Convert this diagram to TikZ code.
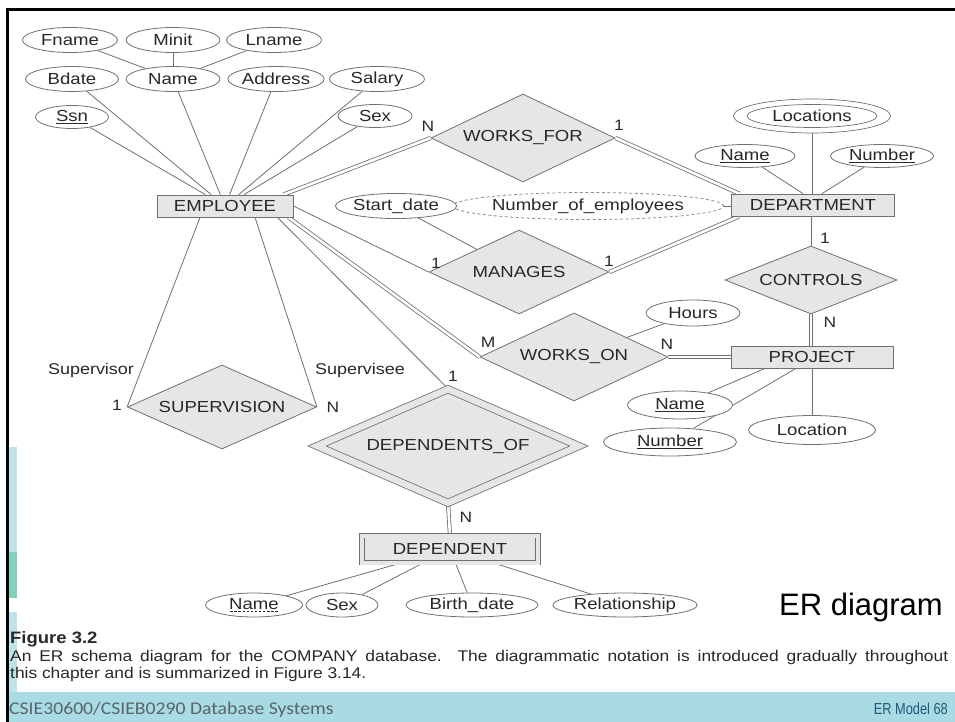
\documentclass[tikz,border=0pt]{standalone}
\usepackage{fontspec}
\setmainfont{Liberation Sans}[FakeStretch=1.16]
\newfontfamily\capfont{Liberation Sans}[FakeStretch=1.12]
\newfontfamily\slidefont{Liberation Sans}
\newfontfamily\narrowfont{Liberation Sans}[FakeStretch=0.8]
\newfontfamily\footfont{Carlito}[FakeStretch=1.1]
\usetikzlibrary{shapes.geometric,calc}

% dashed underline for a partial key
\newcommand{\dashunder}[1]{\setbox0\hbox{#1}\rlap{\raisebox{-3pt}{\hbox to \wd0{\xleaders\hbox to 4pt{\hss\rule{2.4pt}{0.7pt}\hss}\hfill}}}\box0}

\definecolor{edgec}{RGB}{112,112,112}
\definecolor{boxfill}{RGB}{230,230,230}
\definecolor{inkc}{RGB}{40,40,40}
\definecolor{bandc}{RGB}{168,219,227}
\definecolor{tealc}{RGB}{128,210,188}
\definecolor{pagenum}{RGB}{35,90,120}
\definecolor{footgray}{RGB}{90,100,106}

\pgfdeclarelayer{bg}
\pgfsetlayers{bg,main}

\tikzset{
  lbl/.style={font=\fontsize{16}{18}\selectfont, text=inkc},
  attr/.style={ellipse, draw=edgec, line width=0.8pt, fill=white, inner sep=0pt, lbl},
  entity/.style={rectangle, draw=edgec, line width=0.8pt, fill=boxfill, inner sep=0pt, lbl},
  rel/.style={diamond, draw=edgec, line width=0.8pt, fill=boxfill, inner sep=0pt, aspect=2.2, lbl},
  link/.style={draw=edgec, line width=0.8pt},
  total/.style={draw=edgec, line width=0.8pt, double=white, double distance=2.6pt},
  card/.style={font=\fontsize{15}{17}\selectfont, text=inkc, inner sep=0pt},
  role/.style={font=\fontsize{15.5}{17}\selectfont, text=inkc, inner sep=0pt},
  captext/.style={anchor=base west, inner sep=0pt, font=\capfont\fontsize{15.5}{17}\selectfont, text=inkc},
}

\begin{document}
\begin{tikzpicture}[x=1pt,y=-1pt]
\useasboundingbox (0,0) rectangle (955,722);

% ---------------- EMPLOYEE ----------------
\node[entity, minimum width=136pt, minimum height=22pt] (employee) at (225,206) {EMPLOYEE};
\node[attr, minimum width=95pt, minimum height=25pt] (fname) at (70,40) {Fname};
\node[attr, minimum width=94pt, minimum height=25pt] (minit) at (173,40) {Minit};
\node[attr, minimum width=95pt, minimum height=25pt] (lname) at (274,40) {Lname};
\node[attr, minimum width=93pt, minimum height=25pt] (bdate) at (72,79) {Bdate};
\node[attr, minimum width=94pt, minimum height=25pt] (ename) at (173,79) {Name};
\node[attr, minimum width=92pt, minimum height=25pt] (address) at (276,79) {Address};
\node[attr, minimum width=95pt, minimum height=25pt] (salary) at (377,79) {Salary};
\node[attr, minimum width=73pt, minimum height=23pt] (ssn) at (72,117) {\underline{Ssn}};
\node[attr, minimum width=74pt, minimum height=23pt] (esex) at (375,116) {Sex};

% ---------------- DEPARTMENT ----------------
\node[entity, minimum width=163pt, minimum height=22pt] (department) at (813,205) {DEPARTMENT};
\node[attr, line width=0.7pt, minimum width=157pt, minimum height=34pt] (locations) at (812,116) {Locations};
\draw[edgec, line width=0.7pt] (locations.center) ellipse [x radius=65pt, y radius=11.5pt];
\node[attr, minimum width=100pt, minimum height=23pt] (dname) at (745,156) {\underline{Name}};
\node[attr, minimum width=103pt, minimum height=23pt] (dnumber) at (882,156) {\underline{Number}};
\node[attr, draw=edgec!80, dash pattern=on 3pt off 2.5pt, minimum width=224pt, minimum height=27pt] (numemp) at (588,206) {Number\_of\_employees};

% ---------------- relationships ----------------
\node[rel, minimum width=184pt, minimum height=88pt] (worksfor) at (523,138) {WORKS\_FOR};
\node[rel, minimum width=180pt, minimum height=84pt] (manages) at (519,272) {MANAGES};
\node[attr, minimum width=105pt, minimum height=25pt] (startdate) at (396,206) {Start\_date};
\node[rel, minimum width=172pt, minimum height=68pt] (controls) at (811,280) {CONTROLS};
\node[rel, minimum width=188pt, minimum height=88pt] (workson) at (574,357) {WORKS\_ON};
\node[attr, minimum width=94pt, minimum height=26pt] (hours) at (693,313) {Hours};
\node[rel, minimum width=189pt, minimum height=84pt] (supervision) at (222,407) {SUPERVISION};
\node[rel, double=boxfill, double distance=6.4pt, minimum width=262pt, minimum height=114pt] (depof) at (448,446) {DEPENDENTS\_OF};

% ---------------- PROJECT ----------------
\node[entity, minimum width=162pt, minimum height=22pt] (project) at (812,357) {PROJECT};
\node[attr, minimum width=105pt, minimum height=28pt] (pname) at (680,405) {\underline{Name}};
\node[attr, minimum width=133pt, minimum height=28pt] (pnumber) at (670,442) {\underline{Number}};
\node[attr, minimum width=127pt, minimum height=29pt] (plocation) at (812,430) {Location};

% ---------------- DEPENDENT ----------------
\node[entity, double=boxfill, double distance=4pt, minimum width=176pt, minimum height=27pt] (dependent) at (450,549) {DEPENDENT};
\node[attr, minimum width=97pt, minimum height=24pt] (depname) at (254,605) {\dashunder{Name}};
\node[attr, minimum width=72pt, minimum height=24pt] (depsex) at (342,605) {Sex};
\node[attr, minimum width=132pt, minimum height=24pt] (birthdate) at (472,605) {Birth\_date};
\node[attr, minimum width=136pt, minimum height=24pt] (relationship) at (625,605) {Relationship};

% ---------------- cardinalities and roles ----------------
\node[card] (cwf1) at (428,126) {N};
\node[card] (cwf2) at (619,125) {1};
\node[card] (cmg1) at (436,263) {1};
\node[card] (cmg2) at (609,261) {1};
\node[card] (cct1) at (825,238) {1};
\node[card] (cct2) at (830,322) {N};
\node[card] (cwo1) at (488,342) {M};
\node[card] (cwo2) at (667,344) {N};
\node[card] (csv1) at (117,405) {1};
\node[card] (csv2) at (333,407) {N};
\node[card] (cdo1) at (453,376) {1};
\node[card] (cdo2) at (466,517) {N};
\node[role] (supervisor) at (91,370) {Supervisor};
\node[role] (supervisee) at (360,370) {Supervisee};

% ---------------- slide texts ----------------
\node[anchor=base, inner sep=0pt, font=\slidefont\fontsize{31}{34}\selectfont, text=black] (ertitle) at (861,615) {ER diagram};
\node[captext, font=\capfont\bfseries\fontsize{16.5}{18}\selectfont] (figno) at (10,643) {Figure 3.2};
\node[captext] (capa) at (10,661) {\makebox[938pt][s]{An ER schema diagram for the COMPANY database. The diagrammatic notation is introduced gradually throughout}};
\node[captext] (capb) at (10,678) {this chapter and is summarized in Figure 3.14.};
\node[anchor=base west, inner sep=0pt, font=\footfont\fontsize{17.9}{20}\selectfont, text=footgray] (course) at (9,714) {CSIE30600/CSIEB0290 Database Systems};
\node[anchor=base east, inner sep=0pt, font=\narrowfont\fontsize{16}{18}\selectfont, text=pagenum] (pageno) at (948,714) {ER Model 68};

% ---------------- background, slide decoration and connectors ----------------
\begin{pgfonlayer}{bg}
  \fill[white] (0,0) rectangle (955,722);
  \fill[bandc!75] (9,447) rectangle (17,556);
  \fill[tealc] (9,552) rectangle (17,598);
  \fill[bandc!75] (9,612) rectangle (17,692);
  \fill[bandc] (9,692) rectangle (955,722);
  \draw[line width=3pt] (7.5,722) -- (7.5,10) -- (955,10);

  \draw[link] (fname) -- (ename);
  \draw[link] (minit) -- (ename);
  \draw[link] (lname) -- (ename);
  \foreach \a in {bdate,ename,address,salary,ssn,esex}
    \draw[link] (\a) -- (employee);
  \draw[total] ([xshift=-10pt]employee.north east) -- (worksfor.west);
  \draw[total] (worksfor.east) -- ([xshift=8pt]department.north west);
  \draw[link] (employee.east) -- (manages.west);
  \draw[total] (manages.east) -- ([xshift=8pt]department.south west);
  \draw[link] (startdate) -- (manages);
  \draw[link] (numemp.east) -- (numemp.east -| department.west);
  \draw[link] (locations.south) -- (locations.south |- department.north);
  \draw[link] (dname) -- ([xshift=-10pt]department.north);
  \draw[link] (dnumber) -- ([xshift=9pt]department.north);
  \draw[link] (department.south -| controls.north) -- (controls.north);
  \draw[total] (controls.south) -- (controls.south |- project.north);
  \draw[total] ([xshift=-5pt]employee.south east) -- (workson.west);
  \draw[total] (workson.east) -- (workson.east -| project.west);
  \draw[link] (hours) -- (workson);
  \draw[link] ([xshift=-47pt]project.south) -- (pname);
  \draw[link] ([xshift=-16pt]project.south) -- (pnumber);
  \draw[link] (project.south) -- (plocation.north);
  \draw[link] ([xshift=-25pt]employee.south) -- (supervision.west);
  \draw[link] ([xshift=30pt]employee.south) -- (supervision.east);
  \draw[link] ([xshift=-16pt]employee.south east) -- (depof.north);
  \draw[total] (depof.south) -- (dependent.north);
  \foreach \a in {depname,depsex,birthdate,relationship}
    \draw[link] (dependent) -- (\a);
\end{pgfonlayer}
\end{tikzpicture}
\end{document}
